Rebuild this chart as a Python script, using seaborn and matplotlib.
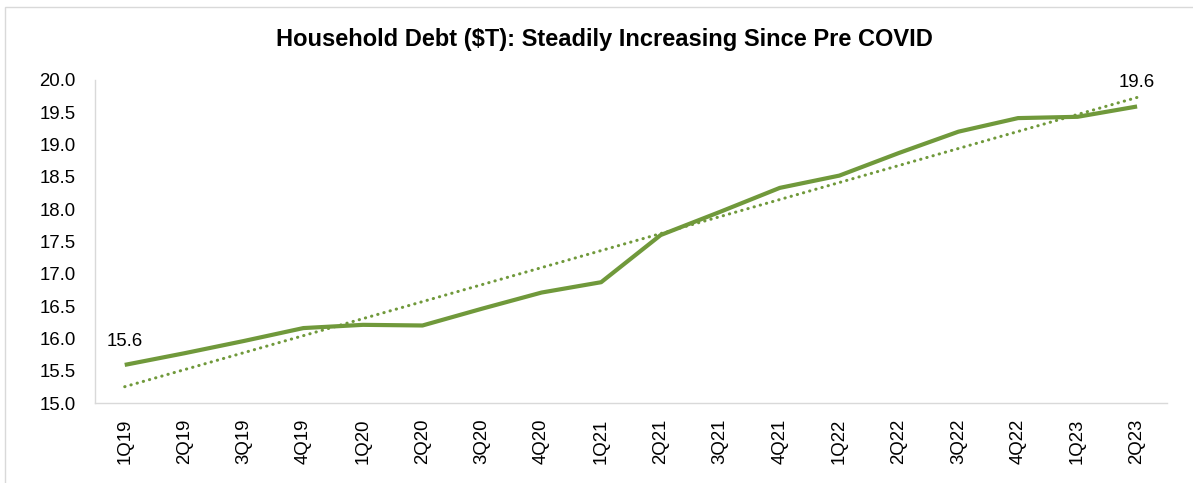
import numpy as np
import pandas as pd
import matplotlib
matplotlib.use("Agg")
import matplotlib.pyplot as plt
from matplotlib.patches import Rectangle
import seaborn as sns

# Quarterly household debt, trillions of dollars
quarters = ["1Q19", "2Q19", "3Q19", "4Q19", "1Q20", "2Q20", "3Q20", "4Q20", "1Q21",
            "2Q21", "3Q21", "4Q21", "1Q22", "2Q22", "3Q22", "4Q22", "1Q23", "2Q23"]
debt = [15.59, 15.77, 15.96, 16.16, 16.21, 16.20, 16.46, 16.71, 16.87,
        17.60, 17.96, 18.33, 18.52, 18.87, 19.20, 19.41, 19.43, 19.59]
y_ticks = [15.0, 15.5, 16.0, 16.5, 17.0, 17.5, 18.0, 18.5, 19.0, 19.5, 20.0]

GREEN = "#70993B"
GRID = "#D9D9D9"
FS = 13.4

sns.set_theme(style="white")
plt.rcParams["font.family"] = ["Liberation Sans", "DejaVu Sans"]

df = pd.DataFrame({"pos": np.arange(len(quarters)), "quarter": quarters, "debt": debt})

fig = plt.figure(figsize=(11.93, 4.83), dpi=100)
ax = fig.add_axes([0.0796, 0.1656, 0.8985, 0.6688])

# Linear trend across all quarters
sns.regplot(data=df, x="pos", y="debt", ax=ax, scatter=False, ci=None, truncate=True,
            line_kws=dict(color=GREEN, lw=2.2, linestyle=(0, (0.1, 2.0)),
                          dash_capstyle="round"))
sns.lineplot(data=df, x="pos", y="debt", ax=ax, sort=False, color=GREEN, lw=3.0,
             solid_capstyle="butt")

ax.set_xlim(-0.5, len(quarters) - 0.5)
ax.set_ylim(y_ticks[0], y_ticks[-1])
ax.set_yticks(y_ticks)
ax.set_yticklabels([f"{v:.1f}" for v in y_ticks], fontsize=FS, color="#000000")
ax.set_xticks(df["pos"])
ax.set_xticklabels(quarters, rotation=90, fontsize=FS, color="#000000")
ax.tick_params(axis="y", length=0, pad=13.7)
ax.tick_params(axis="x", length=0, pad=11)
ax.set_xlabel("")
ax.set_ylabel("")

for side in ("top", "right"):
    ax.spines[side].set_visible(False)
for side in ("left", "bottom"):
    ax.spines[side].set_color(GRID)
    ax.spines[side].set_linewidth(1.0)

# Value labels at the first and last quarter
for i in (0, len(quarters) - 1):
    ax.annotate(f"{debt[i]:.1f}", xy=(i, debt[i]), xytext=(0, 13.9),
                textcoords="offset points", ha="center", va="baseline",
                fontsize=FS, color="#000000")

fig.text(0.507, 1 - 46 / 483, "Household Debt ($T): Steadily Increasing Since Pre COVID",
         ha="center", va="baseline", fontsize=17, fontweight="bold", color="#000000")

# Chart area outline
fig.patches.append(Rectangle((5 / 1193, -0.1), 1.2, 1 - 7 / 483 + 0.1,
                             transform=fig.transFigure, fill=False,
                             edgecolor=GRID, lw=1.0))

fig.savefig("out.png", dpi=100, facecolor="white")
